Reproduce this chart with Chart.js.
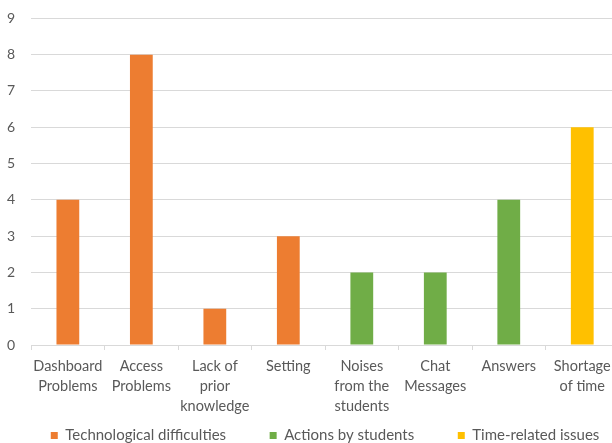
<!DOCTYPE html>
<html>
<head>
<meta charset="utf-8">
<script src="https://cdn.jsdelivr.net/npm/chart.js@4.4.1/dist/chart.umd.min.js"></script>
<style>
    html, body { margin: 0; padding: 0; background: #ffffff; overflow: hidden; }
    #wrap { width: 640px; height: 453px; }
</style>
</head>
<body>
<div id="wrap"><canvas id="chart"></canvas></div>
<script>
// Categories (multi-line labels as in the original)
const categories = [
    ['Dashboard', 'Problems'],
    ['Access', 'Problems'],
    ['Lack of', 'prior', 'knowledge'],
    ['Setting'],
    ['Noises', 'from the', 'students'],
    ['Chat', 'Messages'],
    ['Answers'],
    ['Shortage', 'of time']
];

// Series values (null where a group has no bar)
const techValues = [4, 8, 1, 3, null, null, null, null];
const studentValues = [null, null, null, null, 2, 2, 4, null];
const timeValues = [null, null, null, null, null, null, null, 6];

const seriesNames = ['Technological difficulties', 'Actions by students', 'Time-related issues'];
const yTicks = [0, 1, 2, 3, 4, 5, 6, 7, 8, 9];

const textColor = '#595959';
const gridColor = '#d9d9d9';
const fontFamily = 'Lato, "Open Sans", sans-serif';

function makeDataset(label, data, color) {
    return {
        label: label,
        data: data,
        backgroundColor: color,
        borderWidth: 0,
        barPercentage: 1,
        categoryPercentage: 0.31
    };
}

new Chart(document.getElementById('chart'), {
    type: 'bar',
    data: {
        labels: categories,
        datasets: [
            makeDataset(seriesNames[0], techValues, '#ed7d31'),
            makeDataset(seriesNames[1], studentValues, '#70ad47'),
            makeDataset(seriesNames[2], timeValues, '#ffc000')
        ]
    },
    options: {
        responsive: true,
        maintainAspectRatio: false,
        animation: false,
        grouped: false,
        layout: { padding: { left: -3, right: 21, top: 0, bottom: 0 } },
        plugins: {
            legend: {
                position: 'bottom',
                fullSize: false,   // centre the legend under the plot area
                labels: {
                    color: textColor,
                    font: { size: 15, family: fontFamily },
                    boxWidth: 7,
                    boxHeight: 7,
                    padding: 6,
                    // wider gaps between the items without a tall legend band
                    generateLabels: (chart) => {
                        const items = Chart.defaults.plugins.legend.labels.generateLabels(chart);
                        items.forEach((item, i) => {
                            if (i < items.length - 1) item.text += '\u2003\u2003\u2003 ';
                        });
                        return items;
                    }
                }
            },
            tooltip: { enabled: false }
        },
        scales: {
            y: {
                min: 0,
                max: 9,
                afterBuildTicks: (axis) => {
                    axis.ticks = yTicks.map(v => ({ value: v }));
                },
                ticks: {
                    color: textColor,
                    font: { size: 14, family: fontFamily },
                    padding: 10
                },
                grid: { color: gridColor, drawTicks: true, tickLength: 6, tickColor: 'rgba(0,0,0,0)' },
                border: { display: false }
            },
            x: {
                ticks: {
                    color: textColor,
                    font: { size: 14.5, family: fontFamily, lineHeight: '20px' },
                    padding: 6,
                    maxRotation: 0,
                    autoSkip: false
                },
                grid: {
                    offset: true,
                    drawOnChartArea: false,
                    color: gridColor,
                    tickLength: 5
                },
                border: { display: true, color: gridColor }
            }
        }
    }
});
</script>
</body>
</html>
